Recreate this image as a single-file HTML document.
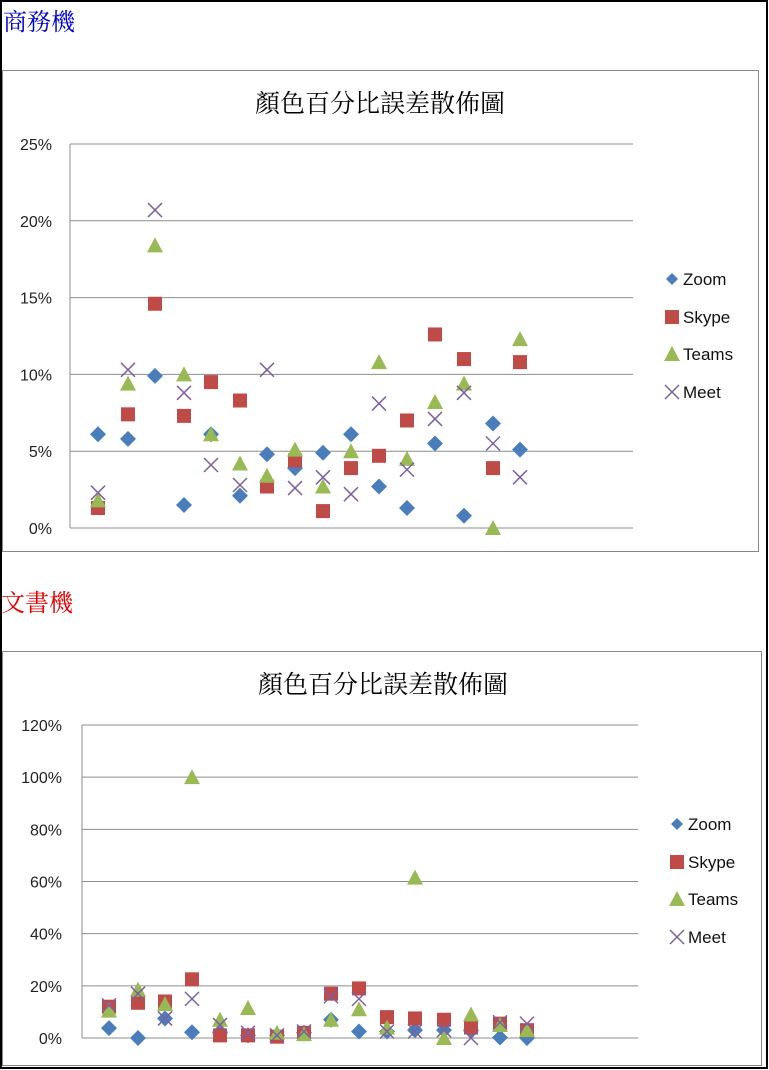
<!DOCTYPE html>
<html><head><meta charset="utf-8"><style>
html,body{margin:0;padding:0;background:#fff}
svg{display:block}
text{font-family:"Liberation Sans","Noto Sans CJK TC",sans-serif}
.cj{font-family:"Liberation Serif","Noto Serif CJK SC",serif}
</style></head><body>
<svg id="s" width="769" height="1070" xmlns="http://www.w3.org/2000/svg">
<rect x="1" y="1" width="766" height="1067" fill="#fff" stroke="#000" stroke-width="2"/>
<text class="cj" x="3" y="30" font-size="24" fill="#0000cc">商務機</text>
<text class="cj" x="1" y="611" font-size="24" fill="#e00000">文書機</text>
<rect x="2.5" y="70.5" width="756" height="481" fill="#fff" stroke="#888" stroke-width="1"/>
<rect x="2.5" y="651.5" width="759" height="414" fill="#fff" stroke="#888" stroke-width="1"/>
<text class="cj" x="380" y="112" font-size="25" text-anchor="middle">顏色百分比誤差散佈圖</text>
<text class="cj" x="383" y="693" font-size="25" text-anchor="middle">顏色百分比誤差散佈圖</text>
<g id="g"></g>
</svg>
<script>
var g=document.getElementById('g'),h='';
function chart(o){
 for(var i=0;i<=o.n;i++){var y=o.y0-(o.y0-o.y1)*i/o.n;
  h+='<line x1="'+o.x0+'" y1="'+y+'" x2="'+o.x1+'" y2="'+y+'" stroke="#8c8c8c" stroke-width="1"/>';
  h+='<text x="'+o.lx+'" y="'+(y+6)+'" font-size="16" text-anchor="end" fill="#222">'+(i*o.step)+'%</text>';}
 h+='<line x1="'+o.x0+'" y1="'+o.y1+'" x2="'+o.x0+'" y2="'+o.y0+'" stroke="#8c8c8c"/>';
 var sc=(o.y0-o.y1)/(o.n*o.step);
 for(var s=0;s<4;s++)for(var i=0;i<16;i++){var x=o.xs[i],y=o.y0-o.d[s][i]*sc;h+=mk(s,x,y);}
 var nm=['Zoom','Skype','Teams','Meet'];
 for(var s=0;s<4;s++){var y=o.ly[s];h+=mk(s,o.mx,y,1);h+='<text x="'+(o.mx+11)+'" y="'+(y+6)+'" font-size="17" fill="#111">'+nm[s]+'</text>';}
}
function mk(s,x,y,l){var r=l?6:8;
 if(s==0)return '<polygon points="'+x+','+(y-r)+' '+(x+r)+','+y+' '+x+','+(y+r)+' '+(x-r)+','+y+'" fill="#4a7ebb"/>';
 if(s==1)return '<rect x="'+(x-7)+'" y="'+(y-7)+'" width="14" height="14" fill="#be4b48"/>';
 if(s==2)return '<polygon points="'+x+','+(y-8)+' '+(x+8)+','+(y+7)+' '+(x-8)+','+(y+7)+'" fill="#98b954"/>';
 return '<path d="M'+(x-7)+','+(y-7)+'L'+(x+7)+','+(y+7)+'M'+(x+7)+','+(y-7)+'L'+(x-7)+','+(y+7)+'" stroke="#7d60a0" stroke-width="1.5"/>';
}
chart({x0:70,x1:633,y0:528,y1:144,n:5,step:5,lx:52,mx:672,ly:[279,317,354,392],
 xs:[98,128,155,184,211,240,267,295,323,351,379,407,435,464,493,520],
 d:[[6.1,5.8,9.9,1.5,6.1,2.1,4.8,3.9,4.9,6.1,2.7,1.3,5.5,0.8,6.8,5.1],
    [1.3,7.4,14.6,7.3,9.5,8.3,2.7,4.4,1.1,3.9,4.7,7.0,12.6,11.0,3.9,10.8],
    [1.8,9.4,18.4,10.0,6.1,4.2,3.4,5.1,2.7,5.0,10.8,4.5,8.2,9.4,0,12.3],
    [2.3,10.3,20.7,8.8,4.1,2.8,10.3,2.6,3.3,2.2,8.1,3.8,7.1,8.8,5.5,3.3]]});
chart({x0:82,x1:638,y0:1038,y1:725,n:6,step:20,lx:62,mx:677,ly:[824,862,899,937],
 xs:[109,138,165,192,220,248,277,304,331,359,387,415,444,471,500,527],
 d:[[3.8,0,7.5,2.2,2,1,1,2,7,2.5,2.5,3,3,3,0.2,0],
    [12,13.5,14,22.5,1,1,0.5,2,17,19,8,7.5,7,4,5.5,3],
    [10.5,18.5,13,100,7,11.5,2,1.5,7,11,4,61.5,0,9,5,3],
    [12.5,17,7.5,15,5,2,1,2.5,16,15,2.5,2.5,3,0,6,5.5]]});
g.innerHTML=h;
</script>
</body></html>
